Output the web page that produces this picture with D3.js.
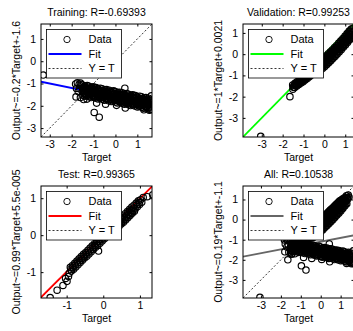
<!DOCTYPE html>
<html><head><meta charset="utf-8">
<script src="https://cdn.jsdelivr.net/npm/d3@7"></script>
<style>
html,body{margin:0;padding:0;background:#fff;}
svg{display:block;}
text{font-family:"Liberation Sans",Arial,Helvetica,sans-serif;fill:#000;}
</style></head><body>
<svg id="chart" width="353" height="331"></svg>
<script>
// ---------- data ----------
const panelTitles = ["Training: R=-0.69393","Validation: R=0.99253","Test: R=0.99365","All: R=0.10538"];
const yLabels = ["Output~=-0.2*Target+-1.6","Output~=1*Target+0.0021","Output~=0.99*Target+5.5e-005","Output~=0.19*Target+-1.1"];
const xLabel = "Target";
const legendLabels = ["Data","Fit","Y = T"];
const fitCoef = [[-0.2,-1.6],[1,0.0021],[0.99,5.5e-5],[0.19,-1.1]];
const axisLims = [[-3.4,1.67],[-3.9,1.42],[-1.7,1.33],[-3.9,1.67]];
const tickVals = [[-3,-2,-1,0,1],[-3,-2,-1,0,1],[-1,0,1],[-3,-2,-1,0,1]];

// [target, output]
const trainPoints = [
[-3.3,-0.62],[-1.82,-1.02],[-1.74,-0.97],[-1.66,-1.04],[-1.6,-0.98],[-1.78,-1.22],[-1.7,-1.36],[-1.63,-1.24],
[-1.8,-1.6],[-1.6,-1.63],[-1.45,-1.72],[-1.3,-1.7],[-0.97,-2.3],[-0.74,-2.51],[-0.86,-1.88],[-0.45,-1.93],
[0.05,-1.98],[0.45,-2.1],[0.43,-1.21],[1.64,-1.55],[1.65,-2.15],[1.55,-2.2],[1.3,-2.18],
[-1.52,-1.06],[-1.49,-1.21],[-1.51,-1.37],[-1.48,-1.53],
[-1.41,-1.11],[-1.38,-1.26],[-1.42,-1.41],[-1.39,-1.57],
[-1.29,-1.09],[-1.32,-1.24],[-1.28,-1.39],[-1.31,-1.54],
[-1.21,-1.12],[-1.18,-1.27],[-1.22,-1.43],[-1.19,-1.59],
[-1.09,-1.17],[-1.12,-1.32],[-1.08,-1.47],[-1.11,-1.63],
[-1.01,-1.15],[-0.98,-1.30],[-1.02,-1.45],[-0.99,-1.60],
[-0.89,-1.18],[-0.92,-1.33],[-0.88,-1.49],[-0.91,-1.65],
[-0.81,-1.23],[-0.78,-1.38],[-0.82,-1.53],[-0.79,-1.69],
[-0.69,-1.21],[-0.72,-1.36],[-0.68,-1.51],[-0.71,-1.66],
[-0.61,-1.24],[-0.58,-1.39],[-0.62,-1.55],[-0.59,-1.71],
[-0.49,-1.29],[-0.52,-1.44],[-0.48,-1.59],[-0.51,-1.75],
[-0.41,-1.27],[-0.38,-1.42],[-0.42,-1.57],[-0.39,-1.72],
[-0.29,-1.30],[-0.32,-1.45],[-0.28,-1.61],[-0.31,-1.77],
[-0.21,-1.35],[-0.18,-1.50],[-0.22,-1.65],[-0.19,-1.81],
[-0.09,-1.33],[-0.12,-1.48],[-0.08,-1.63],[-0.11,-1.78],
[-0.01,-1.36],[0.02,-1.51],[-0.02,-1.67],[0.01,-1.83],
[0.11,-1.41],[0.08,-1.56],[0.12,-1.71],[0.09,-1.87],
[0.19,-1.39],[0.22,-1.54],[0.18,-1.69],[0.21,-1.84],
[0.31,-1.42],[0.28,-1.57],[0.32,-1.73],[0.29,-1.89],
[0.39,-1.47],[0.42,-1.62],[0.38,-1.77],[0.41,-1.93],
[0.51,-1.45],[0.48,-1.60],[0.52,-1.75],[0.49,-1.90],
[0.59,-1.48],[0.62,-1.63],[0.58,-1.79],[0.61,-1.95],
[0.71,-1.53],[0.68,-1.68],[0.72,-1.83],[0.69,-1.99],
[0.79,-1.51],[0.82,-1.66],[0.78,-1.81],[0.81,-1.96],
[0.91,-1.54],[0.88,-1.69],[0.92,-1.85],[0.89,-2.01],
[0.99,-1.59],[1.02,-1.74],[0.98,-1.89],[1.01,-2.05],
[1.11,-1.57],[1.08,-1.72],[1.12,-1.87],[1.09,-2.02],
[1.19,-1.60],[1.22,-1.75],[1.18,-1.91],[1.21,-2.07],
[1.31,-1.65],[1.28,-1.80],[1.32,-1.95],[1.29,-2.11],
[1.39,-1.63],[1.42,-1.78],[1.38,-1.93],[1.41,-2.08],
[1.51,-1.66],[1.48,-1.81],[1.52,-1.97],[1.49,-2.13],
[1.61,-1.71],[1.58,-1.86],[1.62,-2.01],[1.59,-2.17],
[-1.45,-1.16],[-1.46,-1.31],[-1.44,-1.46],
[-1.35,-1.18],[-1.34,-1.33],[-1.36,-1.48],
[-1.25,-1.20],[-1.26,-1.35],[-1.24,-1.50],
[-1.15,-1.22],[-1.14,-1.37],[-1.16,-1.52],
[-1.05,-1.24],[-1.06,-1.39],[-1.04,-1.54],
[-0.95,-1.26],[-0.94,-1.41],[-0.96,-1.56],
[-0.85,-1.28],[-0.86,-1.43],[-0.84,-1.58],
[-0.75,-1.30],[-0.74,-1.45],[-0.76,-1.60],
[-0.65,-1.32],[-0.66,-1.47],[-0.64,-1.62],
[-0.55,-1.34],[-0.54,-1.49],[-0.56,-1.64],
[-0.45,-1.36],[-0.46,-1.51],[-0.44,-1.66],
[-0.35,-1.38],[-0.34,-1.53],[-0.36,-1.68],
[-0.25,-1.40],[-0.26,-1.55],[-0.24,-1.70],
[-0.15,-1.42],[-0.14,-1.57],[-0.16,-1.72],
[-0.05,-1.44],[-0.06,-1.59],[-0.04,-1.74],
[0.05,-1.46],[0.06,-1.61],[0.04,-1.76],
[0.15,-1.48],[0.14,-1.63],[0.16,-1.78],
[0.25,-1.50],[0.26,-1.65],[0.24,-1.80],
[0.35,-1.52],[0.34,-1.67],[0.36,-1.82],
[0.45,-1.54],[0.46,-1.69],[0.44,-1.84],
[0.55,-1.56],[0.54,-1.71],[0.56,-1.86],
[0.65,-1.58],[0.66,-1.73],[0.64,-1.88],
[0.75,-1.60],[0.74,-1.75],[0.76,-1.90],
[0.85,-1.62],[0.86,-1.77],[0.84,-1.92],
[0.95,-1.64],[0.94,-1.79],[0.96,-1.94],
[1.05,-1.66],[1.06,-1.81],[1.04,-1.96],
[1.15,-1.68],[1.14,-1.83],[1.16,-1.98],
[1.25,-1.70],[1.26,-1.85],[1.24,-2.00],
[1.35,-1.72],[1.34,-1.87],[1.36,-2.02],
[1.45,-1.74],[1.46,-1.89],[1.44,-2.04],
[1.55,-1.76],[1.54,-1.91],[1.56,-2.06]
];

const valPoints = [
[-3.05,-3.87],[-1.65,-2.0],
[-1.52,-1.45],[-1.49,-1.55],[-1.51,-1.65],
[-1.41,-1.37],[-1.38,-1.47],[-1.42,-1.57],
[-1.31,-1.30],[-1.28,-1.40],[-1.32,-1.50],
[-1.21,-1.23],[-1.18,-1.33],[-1.22,-1.43],
[-1.11,-1.16],[-1.08,-1.26],[-1.12,-1.36],
[-1.01,-1.08],[-0.98,-1.19],[-1.02,-1.30],
[-0.91,-1.00],[-0.88,-1.11],[-0.92,-1.22],
[-0.81,-0.92],[-0.78,-1.03],[-0.82,-1.14],
[-0.71,-0.84],[-0.68,-0.95],[-0.72,-1.06],
[-0.61,-0.76],[-0.58,-0.87],[-0.62,-0.98],
[-0.51,-0.67],[-0.48,-0.79],[-0.52,-0.91],
[-0.41,-0.52],[-0.38,-0.65],[-0.42,-0.78],[-0.39,-0.90],
[-0.31,-0.43],[-0.28,-0.57],[-0.32,-0.70],[-0.29,-0.83],
[-0.21,-0.35],[-0.18,-0.49],[-0.22,-0.62],[-0.19,-0.75],
[-0.11,-0.26],[-0.08,-0.40],[-0.12,-0.53],[-0.09,-0.67],
[-0.01,-0.17],[0.02,-0.31],[-0.02,-0.45],[0.01,-0.59],
[0.09,-0.08],[0.12,-0.22],[0.08,-0.36],[0.11,-0.50],
[0.19,0.02],[0.22,-0.12],[0.18,-0.26],[0.21,-0.40],
[0.29,0.11],[0.32,-0.03],[0.28,-0.17],[0.31,-0.31],
[0.39,0.21],[0.42,0.07],[0.38,-0.07],[0.41,-0.21],
[0.49,0.31],[0.52,0.17],[0.48,0.03],[0.51,-0.11],
[0.59,0.41],[0.62,0.27],[0.58,0.13],[0.61,-0.01],
[0.69,0.52],[0.72,0.38],[0.68,0.24],[0.71,0.10],
[0.79,0.63],[0.82,0.49],[0.78,0.35],[0.81,0.21],
[0.89,0.74],[0.92,0.60],[0.88,0.46],[0.91,0.32],
[0.99,0.85],[1.02,0.71],[0.98,0.57],[1.01,0.43],
[1.09,0.97],[1.12,0.83],[1.08,0.69],[1.11,0.55],
[1.19,1.09],[1.22,0.95],[1.18,0.81],[1.21,0.67],
[1.29,1.18],[1.32,1.07],[1.28,0.93],[1.31,0.79],
[1.38,1.22],[1.42,1.12],[1.36,1.02],
[-1.45,-1.46],[-1.46,-1.56],[-1.35,-1.39],[-1.36,-1.48],
[-1.25,-1.32],[-1.26,-1.41],[-1.15,-1.25],[-1.16,-1.34],
[-1.05,-1.18],[-1.06,-1.27],[-0.95,-1.10],[-0.96,-1.20],
[-0.85,-1.02],[-0.86,-1.12],[-0.75,-0.94],[-0.76,-1.04],
[-0.65,-0.86],[-0.66,-0.96],[-0.55,-0.78],[-0.56,-0.88],
[-0.45,-0.61],[-0.46,-0.75],[-0.44,-0.89],
[-0.35,-0.53],[-0.36,-0.67],[-0.34,-0.81],
[-0.25,-0.45],[-0.26,-0.59],[-0.24,-0.73],
[-0.15,-0.37],[-0.16,-0.51],[-0.14,-0.65],
[-0.05,-0.28],[-0.06,-0.42],[-0.04,-0.56],
[0.05,-0.20],[0.04,-0.34],[0.06,-0.48],
[0.15,-0.10],[0.14,-0.24],[0.16,-0.38],
[0.25,-0.01],[0.24,-0.15],[0.26,-0.29],
[0.35,0.09],[0.34,-0.05],[0.36,-0.19],
[0.45,0.19],[0.44,0.05],[0.46,-0.09],
[0.55,0.29],[0.54,0.15],[0.56,0.01],
[0.65,0.40],[0.64,0.26],[0.66,0.12],
[0.75,0.51],[0.74,0.37],[0.76,0.23],
[0.85,0.62],[0.84,0.48],[0.86,0.34],
[0.95,0.73],[0.94,0.59],[0.96,0.45],
[1.05,0.84],[1.04,0.70],[1.06,0.56],
[1.15,0.96],[1.14,0.82],[1.16,0.68],
[1.25,1.08],[1.24,0.94],[1.26,0.80]
];

const testPoints = [
[-1.45,-1.69],[-1.26,-1.49],[-1.1,-1.36],[-0.99,-1.25],[-0.95,-1.12],[-1.03,-1.17],[-0.93,-1.03],[-0.13,-0.43],
[-0.90,-0.87],[-0.87,-0.97],[-0.84,-0.82],[-0.81,-0.92],[-0.78,-0.76],[-0.75,-0.86],
[-0.72,-0.70],[-0.69,-0.80],[-0.66,-0.64],[-0.63,-0.74],[-0.60,-0.58],[-0.57,-0.68],
[-0.54,-0.52],[-0.51,-0.62],[-0.48,-0.47],[-0.45,-0.57],[-0.42,-0.41],[-0.39,-0.51],
[-0.36,-0.35],[-0.33,-0.45],[-0.30,-0.29],[-0.27,-0.39],[-0.24,-0.23],[-0.21,-0.33],
[-0.18,-0.18],[-0.15,-0.28],[-0.12,-0.12],[-0.09,-0.22],[-0.06,-0.06],[-0.03,-0.16],
[0.00,0.00],[0.03,-0.10],[0.06,0.06],[0.09,-0.04],[0.12,0.12],[0.15,0.02],
[0.18,0.18],[0.21,0.08],[0.24,0.23],[0.27,0.13],[0.30,0.29],[0.33,0.19],
[0.36,0.35],[0.39,0.25],[0.42,0.41],[0.45,0.31],[0.43,0.24],
[0.48,0.47],[0.51,0.37],[0.49,0.30],[0.54,0.52],[0.57,0.42],[0.55,0.35],
[0.60,0.58],[0.63,0.48],[0.61,0.41],[0.66,0.64],[0.69,0.54],[0.67,0.47],
[0.72,0.70],[0.75,0.60],[0.73,0.53],[0.78,0.76],[0.81,0.66],[0.79,0.59],
[0.84,0.81],[0.87,0.71],[0.85,0.65],[0.90,0.87],[0.93,0.77],
[0.96,0.93],[0.99,0.83],[1.02,0.96],[1.05,0.89],
[1.09,1.02],[1.20,1.04],[1.35,1.09],
[-0.885,-0.92],[-0.825,-0.87],[-0.765,-0.81],[-0.705,-0.75],[-0.645,-0.69],[-0.585,-0.63],
[-0.525,-0.57],[-0.465,-0.52],[-0.405,-0.46],[-0.345,-0.40],[-0.285,-0.34],[-0.225,-0.28],
[-0.165,-0.23],[-0.105,-0.17],[-0.045,-0.11],[0.015,-0.05],[0.075,0.01],[0.135,0.07],
[0.195,0.13],[0.255,0.18],[0.315,0.24],[0.375,0.30],
[0.465,0.38],[0.525,0.44],[0.585,0.49],[0.645,0.55],[0.705,0.61],[0.765,0.67],[0.825,0.73],[0.915,0.82],[0.975,0.88]
];

const allPoints = trainPoints.concat(valPoints, testPoints);
const panelData = [trainPoints, valPoints, testPoints, allPoints];

// ---------- drawing ----------
const fitColors = ["#0000ff","#00ff00","#ff0000","#666666"];
const W = 111;
const layout = [{x:41,y:24,h:113},{x:243,y:24,h:113},{x:41,y:186,h:112},{x:243,y:186,h:112}];
const FS = 10.5;
const svg = d3.select("#chart");
svg.append("rect").attr("width",353).attr("height",331).attr("fill","#fff");
const fmt = d => String(d);

panelData.forEach((pts, i) => {
  const {x:x0, y:y0, h} = layout[i];
  const lim = axisLims[i];
  const xs = d3.scaleLinear().domain(lim).range([x0, x0 + W]);
  const ys = d3.scaleLinear().domain(lim).range([y0 + h, y0]);
  const g = svg.append("g");

  const clipId = "clip" + i;
  svg.append("clipPath").attr("id", clipId).append("rect")
    .attr("x", x0).attr("y", y0).attr("width", W).attr("height", h);
  const plot = g.append("g").attr("clip-path", `url(#${clipId})`);

  // Y = T
  plot.append("line")
    .attr("x1", xs(lim[0])).attr("y1", ys(lim[0]))
    .attr("x2", xs(lim[1])).attr("y2", ys(lim[1]))
    .attr("stroke", "#000").attr("stroke-width", 0.8).attr("stroke-dasharray", "2,2");
  // fit
  const [m, b] = fitCoef[i];
  plot.append("line")
    .attr("x1", xs(lim[0])).attr("y1", ys(m * lim[0] + b))
    .attr("x2", xs(lim[1])).attr("y2", ys(m * lim[1] + b))
    .attr("stroke", fitColors[i]).attr("stroke-width", 1.8);
  // data
  plot.selectAll("circle.pt").data(pts).join("circle").attr("class","pt")
    .attr("cx", d => xs(d[0])).attr("cy", d => ys(d[1])).attr("r", 3.2)
    .attr("fill", "none").attr("stroke", "#000").attr("stroke-width", 1.15);

  // axes
  const ticks = tickVals[i];
  const styleAxis = sel => {
    sel.select(".domain").remove();
    sel.selectAll("line").attr("stroke", "#000");
    sel.selectAll("text").style("font-size", FS + "px").attr("fill", "#000");
  };
  g.append("g").attr("transform", `translate(0,${y0 + h})`)
    .call(d3.axisBottom(xs).tickValues(ticks).tickFormat(fmt).tickSizeInner(-2.5).tickSizeOuter(0).tickPadding(4))
    .call(styleAxis);
  g.append("g").attr("transform", `translate(0,${y0})`)
    .call(d3.axisTop(xs).tickValues(ticks).tickFormat("").tickSizeInner(-2.5).tickSizeOuter(0))
    .call(styleAxis);
  g.append("g").attr("transform", `translate(${x0},0)`)
    .call(d3.axisLeft(ys).tickValues(ticks).tickFormat(fmt).tickSizeInner(-2.5).tickSizeOuter(0).tickPadding(5))
    .call(styleAxis);
  g.append("g").attr("transform", `translate(${x0 + W},0)`)
    .call(d3.axisRight(ys).tickValues(ticks).tickFormat("").tickSizeInner(-2.5).tickSizeOuter(0))
    .call(styleAxis);
  g.append("rect").attr("x", x0).attr("y", y0).attr("width", W).attr("height", h)
    .attr("fill", "none").attr("stroke", "#000").attr("stroke-width", 1);

  // title, labels
  g.append("text").attr("x", x0 + W / 2).attr("y", y0 - 8.3).attr("text-anchor", "middle")
    .style("font-size", FS + "px").text(panelTitles[i]);
  g.append("text").attr("x", x0 + W / 2).attr("y", y0 + h + 23.5).attr("text-anchor", "middle")
    .style("font-size", FS + "px").text(xLabel);
  g.append("text").attr("transform", `translate(${x0 - 21.5},${y0 + h / 2}) rotate(-90)`)
    .attr("text-anchor", "middle").style("font-size", FS + "px").text(yLabels[i]);

  // legend
  const lx = x0 + 5.5, ly = y0 + 5.5;
  const lg = g.append("g");
  lg.append("rect").attr("x", lx).attr("y", ly).attr("width", 75).attr("height", 48.5)
    .attr("fill", "#fff").attr("stroke", "#000").attr("stroke-width", 0.8);
  const rowY = [10, 24.5, 39];
  lg.append("circle").attr("cx", lx + 20.5).attr("cy", ly + rowY[0]).attr("r", 3.2)
    .attr("fill", "none").attr("stroke", "#000").attr("stroke-width", 0.9);
  lg.append("line").attr("x1", lx + 2).attr("x2", lx + 35).attr("y1", ly + rowY[1]).attr("y2", ly + rowY[1])
    .attr("stroke", fitColors[i]).attr("stroke-width", 1.8);
  lg.append("line").attr("x1", lx + 2).attr("x2", lx + 35).attr("y1", ly + rowY[2]).attr("y2", ly + rowY[2])
    .attr("stroke", "#000").attr("stroke-width", 0.8).attr("stroke-dasharray", "2,2");
  legendLabels.forEach((t, k) => {
    lg.append("text").attr("x", lx + 42).attr("y", ly + rowY[k] + 3.9)
      .style("font-size", "11px").text(t);
  });
});
</script>
</body></html>
